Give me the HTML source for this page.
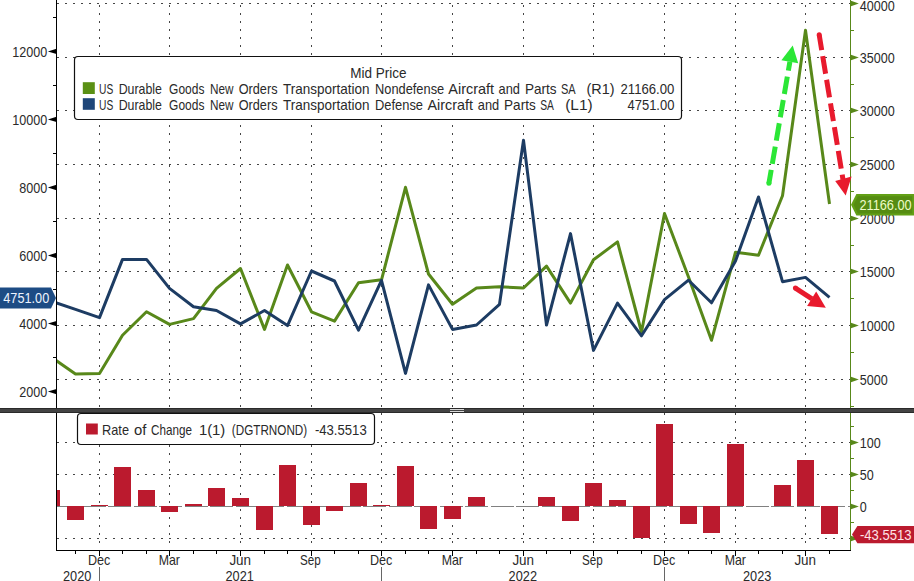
<!DOCTYPE html>
<html><head><meta charset="utf-8"><title>chart</title>
<style>html,body{margin:0;padding:0;background:#fff;}body{width:914px;height:581px;overflow:hidden;}svg{display:block;}text{font-family:"Liberation Sans",sans-serif;font-size:14.5px;fill:#2a2a2a;}</style></head><body>
<svg width="914" height="581" viewBox="0 0 914 581">
<rect x="0" y="0" width="914" height="581" fill="#ffffff"/>
<defs><clipPath id="cp"><rect x="57" y="0" width="794" height="408"/></clipPath></defs>
<g stroke="#454545" stroke-width="1" stroke-dasharray="2 6" fill="none" shape-rendering="crispEdges">
<line x1="99.5" y1="-3" x2="99.5" y2="408"/>
<line x1="99.5" y1="413" x2="99.5" y2="549"/>
<line x1="169.5" y1="-3" x2="169.5" y2="408"/>
<line x1="169.5" y1="413" x2="169.5" y2="549"/>
<line x1="240.5" y1="-3" x2="240.5" y2="408"/>
<line x1="240.5" y1="413" x2="240.5" y2="549"/>
<line x1="311.5" y1="-3" x2="311.5" y2="408"/>
<line x1="311.5" y1="413" x2="311.5" y2="549"/>
<line x1="381.5" y1="-3" x2="381.5" y2="408"/>
<line x1="381.5" y1="413" x2="381.5" y2="549"/>
<line x1="452.5" y1="-3" x2="452.5" y2="408"/>
<line x1="452.5" y1="413" x2="452.5" y2="549"/>
<line x1="523.5" y1="-3" x2="523.5" y2="408"/>
<line x1="523.5" y1="413" x2="523.5" y2="549"/>
<line x1="593.5" y1="-3" x2="593.5" y2="408"/>
<line x1="593.5" y1="413" x2="593.5" y2="549"/>
<line x1="664.5" y1="-3" x2="664.5" y2="408"/>
<line x1="664.5" y1="413" x2="664.5" y2="549"/>
<line x1="735.5" y1="-3" x2="735.5" y2="408"/>
<line x1="735.5" y1="413" x2="735.5" y2="549"/>
<line x1="805.5" y1="-3" x2="805.5" y2="408"/>
<line x1="805.5" y1="413" x2="805.5" y2="549"/>
<line x1="57" y1="379.5" x2="850" y2="379.5"/>
<line x1="57" y1="325.5" x2="850" y2="325.5"/>
<line x1="57" y1="271.5" x2="850" y2="271.5"/>
<line x1="57" y1="218.5" x2="850" y2="218.5"/>
<line x1="57" y1="164.5" x2="850" y2="164.5"/>
<line x1="57" y1="110.5" x2="850" y2="110.5"/>
<line x1="57" y1="57.5" x2="850" y2="57.5"/>
<line x1="57" y1="3.5" x2="850" y2="3.5"/>
<line x1="57" y1="442.5" x2="850" y2="442.5"/>
<line x1="57" y1="474.5" x2="850" y2="474.5"/>
<line x1="57" y1="538.5" x2="850" y2="538.5"/>
</g>
<line x1="57" y1="506.5" x2="850" y2="506.5" stroke="#808080" stroke-width="1" stroke-dasharray="23 2.5" shape-rendering="crispEdges"/>
<g fill="#bb1a2e" shape-rendering="crispEdges">
<rect x="57.0" y="490.4" width="3.0" height="15.6"/>
<rect x="67.0" y="506.0" width="17.0" height="14.0"/>
<rect x="91.0" y="505.0" width="17.0" height="1.0"/>
<rect x="114.0" y="467.0" width="17.0" height="39.0"/>
<rect x="138.0" y="490.4" width="17.0" height="15.6"/>
<rect x="161.0" y="506.0" width="17.0" height="5.6"/>
<rect x="185.0" y="504.4" width="17.0" height="1.6"/>
<rect x="208.0" y="488.2" width="17.0" height="17.8"/>
<rect x="232.0" y="498.2" width="17.0" height="7.8"/>
<rect x="256.0" y="506.0" width="17.0" height="24.0"/>
<rect x="279.0" y="464.8" width="17.0" height="41.2"/>
<rect x="303.0" y="506.0" width="17.0" height="18.6"/>
<rect x="326.0" y="506.0" width="17.0" height="4.6"/>
<rect x="350.0" y="483.2" width="17.0" height="22.8"/>
<rect x="373.0" y="505.0" width="17.0" height="1.0"/>
<rect x="397.0" y="466.0" width="17.0" height="40.0"/>
<rect x="420.0" y="506.0" width="17.0" height="22.8"/>
<rect x="444.0" y="506.0" width="17.0" height="12.8"/>
<rect x="468.0" y="497.2" width="17.0" height="8.8"/>
<rect x="538.0" y="497.2" width="17.0" height="8.8"/>
<rect x="562.0" y="506.0" width="17.0" height="14.6"/>
<rect x="585.0" y="483.2" width="17.0" height="22.8"/>
<rect x="609.0" y="500.3" width="17.0" height="5.7"/>
<rect x="633.0" y="506.0" width="17.0" height="32.0"/>
<rect x="656.0" y="424.0" width="17.0" height="82.0"/>
<rect x="680.0" y="506.0" width="17.0" height="17.8"/>
<rect x="703.0" y="506.0" width="17.0" height="26.5"/>
<rect x="727.0" y="444.0" width="17.0" height="62.0"/>
<rect x="774.0" y="484.8" width="17.0" height="21.2"/>
<rect x="797.0" y="460.2" width="17.0" height="45.8"/>
<rect x="821.0" y="506.0" width="17.0" height="28.0"/>
</g>
<polyline clip-path="url(#cp)" points="51.5,357.3 75.5,374.0 99.5,373.4 122.5,335.2 146.5,311.8 169.5,324.4 193.5,318.6 216.5,288.4 240.5,268.5 264.5,329.4 287.5,265.0 311.5,311.8 334.5,321.1 358.5,282.8 381.5,279.8 405.5,187.3 428.5,274.0 452.5,304.2 476.5,288.0 499.5,286.7 523.5,288.0 546.5,266.1 570.5,303.1 593.5,259.8 617.5,241.9 641.5,332.0 664.5,213.5 688.5,277.0 711.5,340.3 735.5,252.2 758.5,255.2 782.5,195.7 805.5,30.2 829.5,204.0" fill="none" stroke="#58881a" stroke-width="3" stroke-linejoin="round" stroke-linecap="butt"/>
<polyline clip-path="url(#cp)" points="51.5,301.3 75.5,309.4 99.5,317.6 122.5,259.4 146.5,259.4 169.5,288.4 193.5,306.7 216.5,310.5 240.5,323.9 264.5,310.5 287.5,325.6 311.5,271.0 334.5,281.0 358.5,330.2 381.5,280.3 405.5,373.4 428.5,284.9 452.5,329.4 476.5,325.0 499.5,304.3 523.5,140.2 546.5,325.0 570.5,233.6 593.5,350.4 617.5,303.1 641.5,335.8 664.5,299.6 688.5,280.2 711.5,302.8 735.5,261.0 758.5,197.0 782.5,281.7 805.5,277.4 829.5,297.3" fill="none" stroke="#1d3c63" stroke-width="3" stroke-linejoin="round" stroke-linecap="butt"/>
<g shape-rendering="crispEdges">
<line x1="56.5" y1="0" x2="56.5" y2="551" stroke="#000" stroke-width="1"/>
<line x1="850.5" y1="0" x2="850.5" y2="551" stroke="#58881a" stroke-width="1"/>
<line x1="56" y1="550.5" x2="851" y2="550.5" stroke="#000" stroke-width="1"/>
<line x1="53" y1="357.5" x2="57" y2="357.5" stroke="#000"/>
<line x1="53" y1="289.5" x2="57" y2="289.5" stroke="#000"/>
<line x1="53" y1="221.5" x2="57" y2="221.5" stroke="#000"/>
<line x1="53" y1="153.5" x2="57" y2="153.5" stroke="#000"/>
<line x1="53" y1="85.5" x2="57" y2="85.5" stroke="#000"/>
<line x1="53" y1="17.5" x2="57" y2="17.5" stroke="#000"/>
<line x1="850" y1="406.5" x2="854" y2="406.5" stroke="#58881a"/>
<line x1="850" y1="352.5" x2="854" y2="352.5" stroke="#58881a"/>
<line x1="850" y1="298.5" x2="854" y2="298.5" stroke="#58881a"/>
<line x1="850" y1="245.5" x2="854" y2="245.5" stroke="#58881a"/>
<line x1="850" y1="191.5" x2="854" y2="191.5" stroke="#58881a"/>
<line x1="850" y1="137.5" x2="854" y2="137.5" stroke="#58881a"/>
<line x1="850" y1="84.5" x2="854" y2="84.5" stroke="#58881a"/>
<line x1="850" y1="30.5" x2="854" y2="30.5" stroke="#58881a"/>
<line x1="850" y1="426.5" x2="854" y2="426.5" stroke="#58881a"/>
<line x1="850" y1="458.5" x2="854" y2="458.5" stroke="#58881a"/>
<line x1="850" y1="490.5" x2="854" y2="490.5" stroke="#58881a"/>
<line x1="850" y1="522.5" x2="854" y2="522.5" stroke="#58881a"/>
<line x1="75.5" y1="551" x2="75.5" y2="554" stroke="#000"/>
<line x1="99.5" y1="551" x2="99.5" y2="556" stroke="#000"/>
<line x1="122.5" y1="551" x2="122.5" y2="554" stroke="#000"/>
<line x1="146.5" y1="551" x2="146.5" y2="554" stroke="#000"/>
<line x1="169.5" y1="551" x2="169.5" y2="556" stroke="#000"/>
<line x1="193.5" y1="551" x2="193.5" y2="554" stroke="#000"/>
<line x1="216.5" y1="551" x2="216.5" y2="554" stroke="#000"/>
<line x1="240.5" y1="551" x2="240.5" y2="556" stroke="#000"/>
<line x1="264.5" y1="551" x2="264.5" y2="554" stroke="#000"/>
<line x1="287.5" y1="551" x2="287.5" y2="554" stroke="#000"/>
<line x1="311.5" y1="551" x2="311.5" y2="556" stroke="#000"/>
<line x1="334.5" y1="551" x2="334.5" y2="554" stroke="#000"/>
<line x1="358.5" y1="551" x2="358.5" y2="554" stroke="#000"/>
<line x1="381.5" y1="551" x2="381.5" y2="556" stroke="#000"/>
<line x1="405.5" y1="551" x2="405.5" y2="554" stroke="#000"/>
<line x1="428.5" y1="551" x2="428.5" y2="554" stroke="#000"/>
<line x1="452.5" y1="551" x2="452.5" y2="556" stroke="#000"/>
<line x1="476.5" y1="551" x2="476.5" y2="554" stroke="#000"/>
<line x1="499.5" y1="551" x2="499.5" y2="554" stroke="#000"/>
<line x1="523.5" y1="551" x2="523.5" y2="556" stroke="#000"/>
<line x1="546.5" y1="551" x2="546.5" y2="554" stroke="#000"/>
<line x1="570.5" y1="551" x2="570.5" y2="554" stroke="#000"/>
<line x1="593.5" y1="551" x2="593.5" y2="556" stroke="#000"/>
<line x1="617.5" y1="551" x2="617.5" y2="554" stroke="#000"/>
<line x1="641.5" y1="551" x2="641.5" y2="554" stroke="#000"/>
<line x1="664.5" y1="551" x2="664.5" y2="556" stroke="#000"/>
<line x1="688.5" y1="551" x2="688.5" y2="554" stroke="#000"/>
<line x1="711.5" y1="551" x2="711.5" y2="554" stroke="#000"/>
<line x1="735.5" y1="551" x2="735.5" y2="556" stroke="#000"/>
<line x1="758.5" y1="551" x2="758.5" y2="554" stroke="#000"/>
<line x1="782.5" y1="551" x2="782.5" y2="554" stroke="#000"/>
<line x1="805.5" y1="551" x2="805.5" y2="556" stroke="#000"/>
<line x1="829.5" y1="551" x2="829.5" y2="554" stroke="#000"/>
<line x1="99.5" y1="567" x2="99.5" y2="581" stroke="#666"/>
<line x1="381.5" y1="567" x2="381.5" y2="581" stroke="#666"/>
<line x1="664.5" y1="567" x2="664.5" y2="581" stroke="#666"/>
</g>
<path d="M47.9 391.6 L56.5 388.9 L56.5 394.3 Z" fill="#000"/>
<text x="19.2" y="396.9" textLength="28.0" lengthAdjust="spacingAndGlyphs">2000</text>
<path d="M47.9 323.6 L56.5 320.9 L56.5 326.3 Z" fill="#000"/>
<text x="19.2" y="328.9" textLength="28.0" lengthAdjust="spacingAndGlyphs">4000</text>
<path d="M47.9 255.5 L56.5 252.8 L56.5 258.2 Z" fill="#000"/>
<text x="19.2" y="260.8" textLength="28.0" lengthAdjust="spacingAndGlyphs">6000</text>
<path d="M47.9 187.5 L56.5 184.8 L56.5 190.2 Z" fill="#000"/>
<text x="19.2" y="192.8" textLength="28.0" lengthAdjust="spacingAndGlyphs">8000</text>
<path d="M47.9 119.4 L56.5 116.7 L56.5 122.1 Z" fill="#000"/>
<text x="12.2" y="124.7" textLength="35.0" lengthAdjust="spacingAndGlyphs">10000</text>
<path d="M47.9 51.4 L56.5 48.7 L56.5 54.1 Z" fill="#000"/>
<text x="12.2" y="56.7" textLength="35.0" lengthAdjust="spacingAndGlyphs">12000</text>
<path d="M851 376.7 L858.8 379.5 L851 382.3 Z" fill="#58881a"/>
<text x="859.8" y="384.9" textLength="28.0" lengthAdjust="spacingAndGlyphs">5000</text>
<path d="M851 322.7 L858.8 325.5 L851 328.3 Z" fill="#58881a"/>
<text x="859.8" y="330.9" textLength="35.0" lengthAdjust="spacingAndGlyphs">10000</text>
<path d="M851 268.7 L858.8 271.5 L851 274.3 Z" fill="#58881a"/>
<text x="859.8" y="276.9" textLength="35.0" lengthAdjust="spacingAndGlyphs">15000</text>
<path d="M851 215.7 L858.8 218.5 L851 221.3 Z" fill="#58881a"/>
<text x="859.8" y="223.9" textLength="35.0" lengthAdjust="spacingAndGlyphs">20000</text>
<path d="M851 161.7 L858.8 164.5 L851 167.3 Z" fill="#58881a"/>
<text x="859.8" y="169.9" textLength="35.0" lengthAdjust="spacingAndGlyphs">25000</text>
<path d="M851 107.7 L858.8 110.5 L851 113.3 Z" fill="#58881a"/>
<text x="859.8" y="115.9" textLength="35.0" lengthAdjust="spacingAndGlyphs">30000</text>
<path d="M851 54.7 L858.8 57.5 L851 60.3 Z" fill="#58881a"/>
<text x="859.8" y="62.9" textLength="35.0" lengthAdjust="spacingAndGlyphs">35000</text>
<path d="M851 0.7 L858.8 3.5 L851 6.3 Z" fill="#58881a"/>
<text x="859.8" y="10.8" textLength="35.0" lengthAdjust="spacingAndGlyphs">40000</text>
<path d="M851 439.7 L858.8 442.5 L851 445.3 Z" fill="#58881a"/>
<text x="859.8" y="447.9" textLength="21.0" lengthAdjust="spacingAndGlyphs">100</text>
<path d="M851 471.7 L858.8 474.5 L851 477.3 Z" fill="#58881a"/>
<text x="859.8" y="479.9" textLength="14.0" lengthAdjust="spacingAndGlyphs">50</text>
<path d="M851 503.7 L858.8 506.5 L851 509.3 Z" fill="#58881a"/>
<text x="859.8" y="511.9" textLength="7.0" lengthAdjust="spacingAndGlyphs">0</text>
<path d="M851 535.7 L858.8 538.5 L851 541.3 Z" fill="#58881a"/>
<rect x="0" y="408" width="914" height="5" fill="#434343"/>
<rect x="0" y="408" width="914" height="1" fill="#2a2a2a"/><rect x="0" y="412" width="914" height="1" fill="#2a2a2a"/>
<rect x="450" y="409" width="14" height="1" fill="#d8d8d8"/><rect x="450" y="411" width="14" height="1" fill="#d8d8d8"/>
<line x1="789.9" y1="61.7" x2="768.9" y2="183.4" stroke="#2be636" stroke-width="5" stroke-dasharray="17.55 6.1" stroke-dashoffset="8.45" stroke-linecap="butt"/>
<circle cx="768.9" cy="183.3" r="2.5" fill="#2be636"/>
<path d="M792.7 45.6 L798.2 63.2 L781.4 60.3 Z" fill="#2be636"/>
<line x1="819.2" y1="34.8" x2="843" y2="179.5" stroke="#e81a2d" stroke-width="5" stroke-dasharray="17.94 6.08" stroke-dashoffset="2.5" stroke-linecap="butt"/>
<circle cx="819.2" cy="34.8" r="2.5" fill="#e81a2d"/>
<path d="M845.7 195.6 L835.2 181 L851.6 176.6 Z" fill="#e81a2d"/>
<line x1="795.4" y1="288.1" x2="812" y2="298.9" stroke="#e81a2d" stroke-width="5" stroke-linecap="butt"/>
<circle cx="795.4" cy="288.1" r="2.5" fill="#e81a2d"/>
<path d="M825.8 307.8 L816.2 291.4 L807.1 305.9 Z" fill="#e81a2d"/>
<rect x="74.5" y="56.5" width="607" height="63" rx="3.5" ry="3.5" fill="#ffffff" stroke="#111" stroke-width="1.2"/>
<rect x="82.8" y="82.2" width="12" height="11.8" fill="#5a9014"/>
<rect x="82.8" y="98.2" width="12" height="11.6" fill="#1e4679"/>
<text x="350.3" y="78" textLength="56.3" lengthAdjust="spacingAndGlyphs" >Mid Price</text>
<text x="99.0" y="93.9" textLength="14.2" lengthAdjust="spacingAndGlyphs" >US</text>
<text x="118.7" y="93.9" textLength="43.3" lengthAdjust="spacingAndGlyphs" >Durable</text>
<text x="169.1" y="93.9" textLength="35.3" lengthAdjust="spacingAndGlyphs" >Goods</text>
<text x="210.0" y="93.9" textLength="23.5" lengthAdjust="spacingAndGlyphs" >New</text>
<text x="238.7" y="93.9" textLength="38.8" lengthAdjust="spacingAndGlyphs" >Orders</text>
<text x="283.1" y="93.9" textLength="86.4" lengthAdjust="spacingAndGlyphs" >Transportation</text>
<text x="375.0" y="93.9" textLength="69.2" lengthAdjust="spacingAndGlyphs" >Nondefense</text>
<text x="448.3" y="93.9" textLength="45.8" lengthAdjust="spacingAndGlyphs" >Aircraft</text>
<text x="498.6" y="93.9" textLength="21.4" lengthAdjust="spacingAndGlyphs" >and</text>
<text x="524.9" y="93.9" textLength="31.6" lengthAdjust="spacingAndGlyphs" >Parts</text>
<text x="561.0" y="93.9" textLength="14.7" lengthAdjust="spacingAndGlyphs" >SA</text>
<text x="586.5" y="93.9" textLength="28" lengthAdjust="spacingAndGlyphs" >(R1)</text>
<text x="620.5" y="93.9" textLength="53.9" lengthAdjust="spacingAndGlyphs" >21166.00</text>
<text x="99.0" y="109.8" textLength="14.2" lengthAdjust="spacingAndGlyphs" >US</text>
<text x="118.7" y="109.8" textLength="43.3" lengthAdjust="spacingAndGlyphs" >Durable</text>
<text x="169.1" y="109.8" textLength="35.3" lengthAdjust="spacingAndGlyphs" >Goods</text>
<text x="210.0" y="109.8" textLength="23.5" lengthAdjust="spacingAndGlyphs" >New</text>
<text x="238.7" y="109.8" textLength="38.8" lengthAdjust="spacingAndGlyphs" >Orders</text>
<text x="283.1" y="109.8" textLength="86.4" lengthAdjust="spacingAndGlyphs" >Transportation</text>
<text x="375.0" y="109.8" textLength="48.0" lengthAdjust="spacingAndGlyphs" >Defense</text>
<text x="427.5" y="109.8" textLength="45.4" lengthAdjust="spacingAndGlyphs" >Aircraft</text>
<text x="477.8" y="109.8" textLength="21.4" lengthAdjust="spacingAndGlyphs" >and</text>
<text x="504.1" y="109.8" textLength="31.6" lengthAdjust="spacingAndGlyphs" >Parts</text>
<text x="540.2" y="109.8" textLength="13.7" lengthAdjust="spacingAndGlyphs" >SA</text>
<text x="565.2" y="109.8" textLength="27.4" lengthAdjust="spacingAndGlyphs" >(L1)</text>
<text x="627.5" y="109.8" textLength="46.9" lengthAdjust="spacingAndGlyphs" >4751.00</text>
<rect x="77.5" y="413.5" width="297" height="31" rx="3.5" ry="3.5" fill="#ffffff" stroke="#111" stroke-width="1.2"/>
<rect x="86" y="423.5" width="11.8" height="11" fill="#bb1a2e"/>
<text x="102.1" y="434.9" textLength="26.9" lengthAdjust="spacingAndGlyphs" >Rate</text>
<text x="134.1" y="434.9" textLength="12.4" lengthAdjust="spacingAndGlyphs" >of</text>
<text x="151.1" y="434.9" textLength="40.9" lengthAdjust="spacingAndGlyphs" >Change</text>
<text x="198.9" y="434.9" textLength="26.4" lengthAdjust="spacingAndGlyphs" >1(1)</text>
<text x="231.8" y="434.9" textLength="75.4" lengthAdjust="spacingAndGlyphs" >(DGTRNOND)</text>
<text x="314.9" y="434.9" textLength="51.8" lengthAdjust="spacingAndGlyphs" >-43.5513</text>
<path d="M0 287.5 L51 287.5 L56 298 L51 308.5 L0 308.5 Z" fill="#1d4c84"/>
<text x="3.3" y="302.6" textLength="45.9" lengthAdjust="spacingAndGlyphs" style="fill:#eef4ff">4751.00</text>
<path d="M914 194 L856.4 194 L851 204.8 L856.4 215.5 L914 215.5 Z" fill="#62a016"/>
<path d="M912.3 196.3 L857.8 196.3 L853.6 204.8 L857.8 213.4 L912.3 213.4 Z" fill="#558c12"/>
<text x="859.4" y="209.7" textLength="52.3" lengthAdjust="spacingAndGlyphs" style="fill:#eefcc8">21166.00</text>
<path d="M914 526 L857.4 526 L852 534.6 L857.4 543.2 L914 543.2 Z" fill="#bb1a2e"/>
<text x="859.9" y="539.8" textLength="51.7" lengthAdjust="spacingAndGlyphs" style="fill:#ffe2e6">-43.5513</text>
<text x="87.9" y="564.8" textLength="22.4" lengthAdjust="spacingAndGlyphs" >Dec</text>
<text x="158.7" y="564.8" textLength="21.3" lengthAdjust="spacingAndGlyphs" >Mar</text>
<text x="229.4" y="564.8" textLength="21.7" lengthAdjust="spacingAndGlyphs" >Jun</text>
<text x="300.1" y="564.8" textLength="20.7" lengthAdjust="spacingAndGlyphs" >Sep</text>
<text x="369.9" y="564.8" textLength="22.4" lengthAdjust="spacingAndGlyphs" >Dec</text>
<text x="441.7" y="564.8" textLength="21.3" lengthAdjust="spacingAndGlyphs" >Mar</text>
<text x="512.4" y="564.8" textLength="21.7" lengthAdjust="spacingAndGlyphs" >Jun</text>
<text x="582.1" y="564.8" textLength="20.7" lengthAdjust="spacingAndGlyphs" >Sep</text>
<text x="652.9" y="564.8" textLength="22.4" lengthAdjust="spacingAndGlyphs" >Dec</text>
<text x="724.7" y="564.8" textLength="21.3" lengthAdjust="spacingAndGlyphs" >Mar</text>
<text x="794.4" y="564.8" textLength="21.7" lengthAdjust="spacingAndGlyphs" >Jun</text>
<text x="63.0" y="580.9" textLength="28.4" lengthAdjust="spacingAndGlyphs" >2020</text>
<text x="225.5" y="580.9" textLength="28.4" lengthAdjust="spacingAndGlyphs" >2021</text>
<text x="508.6" y="580.9" textLength="28.4" lengthAdjust="spacingAndGlyphs" >2022</text>
<text x="743.0" y="580.9" textLength="28.4" lengthAdjust="spacingAndGlyphs" >2023</text>
</svg></body></html>
